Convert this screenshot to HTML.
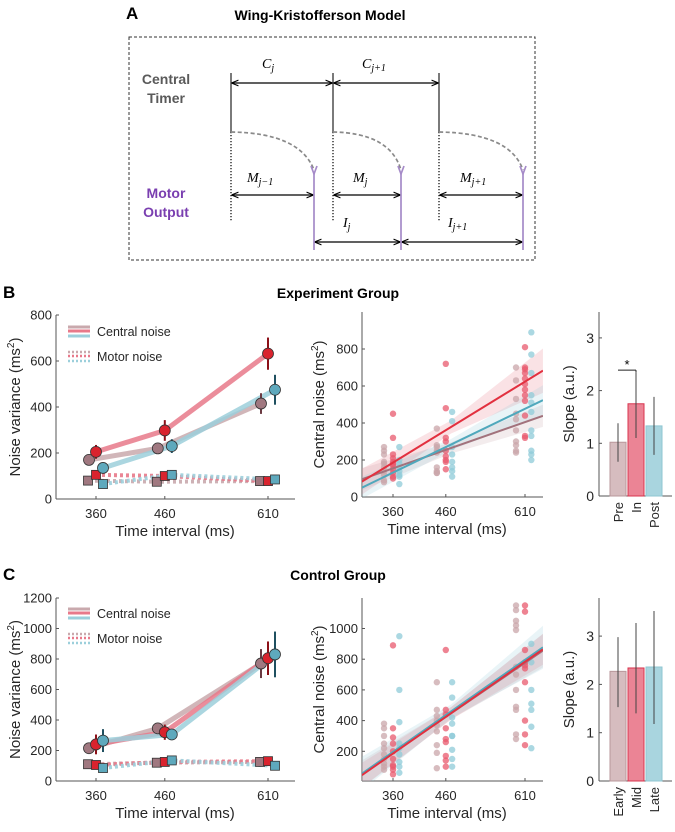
<!DOCTYPE html>
<html><head><meta charset="utf-8">
<style>
body{margin:0;background:#fff;}
svg{display:block;font-family:"Liberation Sans",Arial,sans-serif;}
</style></head>
<body>
<svg id="fig" width="675" height="832" viewBox="0 0 675 832" xmlns="http://www.w3.org/2000/svg">
<defs>
<marker id="ah" viewBox="0 0 10 10" refX="9" refY="5" markerWidth="6" markerHeight="6" orient="auto-start-reverse"><path d="M0,1 L10,5 L0,9" fill="none" stroke="#000" stroke-width="1.5"/></marker>
</defs>
<!-- Panel A -->
<g>
<text x="126" y="19" font-size="17" font-weight="bold">A</text>
<text x="320" y="20" font-size="14" font-weight="bold" text-anchor="middle">Wing-Kristofferson Model</text>
<rect x="129" y="37" width="406" height="223" fill="none" stroke="#333" stroke-dasharray="3,2"/>
<text x="166" y="84" font-size="14" font-weight="bold" fill="#5a5a5a" text-anchor="middle"><tspan x="166">Central</tspan><tspan x="166" dy="19">Timer</tspan></text>
<text x="166" y="198" font-size="14" font-weight="bold" fill="#7a3fb0" text-anchor="middle"><tspan x="166">Motor</tspan><tspan x="166" dy="19">Output</tspan></text>
<g stroke="#333" stroke-width="1.3">
<line x1="231" y1="73" x2="231" y2="132"/><line x1="333" y1="73" x2="333" y2="132"/><line x1="439" y1="73" x2="439" y2="132"/>
</g>
<g stroke="#000" stroke-width="1.2" stroke-dasharray="1.2,1.8">
<line x1="231" y1="132" x2="231" y2="222"/><line x1="333" y1="132" x2="333" y2="222"/><line x1="439" y1="132" x2="439" y2="222"/>
</g>
<g stroke="#000" stroke-width="1.2" marker-start="url(#ah)" marker-end="url(#ah)">
<line x1="232" y1="83" x2="332" y2="83"/><line x1="334" y1="83" x2="438" y2="83"/>
<line x1="232" y1="195" x2="313" y2="195"/><line x1="334" y1="195" x2="400" y2="195"/><line x1="440" y1="195" x2="522" y2="195"/>
<line x1="315" y1="242" x2="400" y2="242"/><line x1="402" y1="242" x2="522" y2="242"/>
</g>
<g fill="none" stroke-width="1.7" stroke-dasharray="4,2.5" stroke="#8a8a8a">
<path d="M231,132 Q300,133 314,170"/>
<path d="M333,132 Q390,133 401,170"/>
<path d="M439,132 Q510,133 523,170"/>
</g>
<g stroke="#a58ac8" stroke-width="1.7" fill="none">
<path d="M311,166 L314,174 L317,166"/><path d="M398,166 L401,174 L404,166"/><path d="M520,166 L523,174 L526,166"/>
<line x1="314" y1="173" x2="314" y2="250"/><line x1="401" y1="173" x2="401" y2="250"/><line x1="523" y1="173" x2="523" y2="250"/>
</g>
<g font-family="Liberation Serif,serif" font-style="italic" font-size="14">
<text x="262" y="68">C<tspan font-size="10" dy="3">j</tspan></text>
<text x="362" y="68">C<tspan font-size="10" dy="3">j+1</tspan></text>
<text x="247" y="182">M<tspan font-size="10" dy="3">j−1</tspan></text>
<text x="353" y="182">M<tspan font-size="10" dy="3">j</tspan></text>
<text x="460" y="182">M<tspan font-size="10" dy="3">j+1</tspan></text>
<text x="343" y="227">I<tspan font-size="10" dy="3">j</tspan></text>
<text x="448" y="227">I<tspan font-size="10" dy="3">j+1</tspan></text>
</g>
</g>
<text x="3" y="298" font-size="17" font-weight="bold">B</text>
<text x="338" y="298" font-size="14" font-weight="bold" text-anchor="middle">Experiment Group</text>
<text x="3" y="580" font-size="17" font-weight="bold">C</text>
<text x="338" y="580" font-size="14" font-weight="bold" text-anchor="middle">Control Group</text>
</svg>
<script>
// ---------- DATA ----------
const intervals = [360, 460, 610];
// Panel B left (experiment)
const bCentralPre = [170, 220, 415], bCentralIn = [205, 298, 632], bCentralPost = [135, 230, 475];
const bCentralPreErr = [12, 15, 45], bCentralInErr = [30, 45, 70], bCentralPostErr = [15, 30, 65];
const bMotorPre = [80, 75, 78], bMotorIn = [105, 100, 78], bMotorPost = [65, 105, 85];
const bMotorErr = [15, 15, 15];
// Panel C left (control)
const cCentralPre = [215, 345, 770], cCentralIn = [240, 320, 805], cCentralPost = [265, 305, 830];
const cCentralPreErr = [12, 30, 95], cCentralInErr = [65, 50, 110], cCentralPostErr = [75, 30, 150];
const cMotorPre = [110, 120, 125], cMotorIn = [105, 125, 130], cMotorPost = [85, 135, 100];
const cMotorErr = [15, 15, 30];
const bLeftTicks = [0, 200, 400, 600, 800];
const cLeftTicks = [0, 200, 400, 600, 800, 1000, 1200];
// Panel B middle scatter
const bDotsPre = [[270,250,230,190,180,160,140,120,90,80],[370,280,270,250,240,160,140,130,130],[700,630,530,450,420,360,300,280,250,240]];
const bDotsIn = [[450,320,230,210,190,180,170,150,130,110,100],[720,480,320,300,250,220,200,190,150],[810,700,690,670,640,610,580,550,520,440,330,320]];
const bDotsPost = [[270,200,180,160,140,120,110,70],[460,410,270,230,190,160,140,110],[890,770,670,550,510,460,360,330,250,230,200]];
const bFitSlope = [1.0, 1.75, 1.38], bFitAt300 = [95, 81, 49];
const bCiLeft = [60, 70, 60], bCiMid = [30, 35, 30], bCiRight = [60, 120, 80];
const bMidTicks = [0, 200, 400, 600, 800];
// Panel C middle scatter
const cDotsPre = [[380,350,300,250,220,180,150,120,100,80],[650,470,430,400,370,330,240,190,90],[1150,1120,1050,1020,990,750,700,600,490,470,310,280]];
const cDotsIn = [[890,350,290,250,200,150,110,100,80,50],[860,470,440,350,280,260,170,140,100],[1150,1110,860,780,760,740,650,400,310,240]];
const cDotsPost = [[950,600,390,250,220,180,130,100,60],[650,550,420,380,300,300,210,150,100],[900,780,600,510,470,360,220]];
const cFitSlope = [2.35, 2.39, 2.4], cFitAt300 = [48, 42, 52];
const cCiLeft = [90, 80, 110], cCiMid = [40, 40, 45], cCiRight = [110, 100, 140];
const cMidTicks = [200, 400, 600, 800, 1000];
// Slopes
const bSlopeLabels = ["Pre", "In", "Post"], bSlopes = [1.02, 1.75, 1.33], bSlopeLo = [0.65, 1.1, 0.78], bSlopeHi = [1.38, 2.35, 1.88];
const cSlopeLabels = ["Early", "Mid", "Late"], cSlopes = [2.27, 2.34, 2.36], cSlopeLo = [1.53, 1.4, 1.18], cSlopeHi = [2.98, 3.27, 3.52];
const slopeTicks = [0, 1, 2, 3];

// ---------- DRAW ----------
const svg = document.getElementById('fig');
const NS = 'http://www.w3.org/2000/svg';
function el(tag, attrs, parent) {
  const e = document.createElementNS(NS, tag);
  for (const k in attrs) e.setAttribute(k, attrs[k]);
  (parent || svg).appendChild(e);
  return e;
}
function txt(s, attrs, parent) { const t = el('text', attrs, parent); t.textContent = s; return t; }
const COL = {
  preLine: '#c9a9ad', inLine: '#e8798a', postLine: '#9ccfdb',
  preMk: '#a07880', inMk: '#d9232e', postMk: '#5ea9bd',
  preErr: '#6b3a42', inErr: '#8c1018', postErr: '#1f5060',
  preDot: '#c9a5aa', inDot: '#e8596e', postDot: '#8fcbd8',
  preFit: '#a2727c', inFit: '#e2303f', postFit: '#4fa8bc',
  preBar: '#d6bcbf', inBar: '#eb8495', postBar: '#a9d5df',
  preBarE: '#b8979b', inBarE: '#d8344e', postBarE: '#8fc6d2'
};

function linePanel(name, top, bottom, ymax, ticks, cen, cenErr, mot, motErr, legY) {
  const g = el('g', {});
  
  
  const x0 = 56, x1 = 295;
  const xs = ms => 96 + (ms - 360) * 0.688;
  const ys = v => bottom - v / ymax * (bottom - top);
  el('line', {x1: x0, y1: bottom, x2: x1, y2: bottom, stroke: '#555', 'stroke-width': 1}, g);
  el('line', {x1: x0, y1: top, x2: x0, y2: bottom, stroke: '#555', 'stroke-width': 1}, g);
  ticks.forEach(t => {
    el('line', {x1: x0, y1: ys(t), x2: x0 + 3, y2: ys(t), stroke: '#555'}, g);
    const lb = txt(String(t), {x: x0 - 4, y: ys(t) + 4.5, 'font-size': 13, 'text-anchor': 'end', fill: '#262626'}, g);
    
    
  });
  intervals.forEach(ms => {
    el('line', {x1: xs(ms), y1: bottom, x2: xs(ms), y2: bottom - 3, stroke: '#555'}, g);
    const lb = txt(String(ms), {x: xs(ms), y: bottom + 19, 'font-size': 13, 'text-anchor': 'middle', fill: '#262626'}, g);
    
    
  });
  const xl = txt('Time interval (ms)', {x: 175, y: bottom + 37, 'font-size': 15, 'text-anchor': 'middle', fill: '#262626'}, g);
  
  
  const yl = el('text', {transform: `translate(20,${(top + bottom) / 2}) rotate(-90)`, 'font-size': 15, 'text-anchor': 'middle', fill: '#262626'}, g);
  yl.innerHTML = 'Noise variance (ms<tspan font-size="10" dy="-6">2</tspan><tspan dy="6">)</tspan>';
  
  
  const offs = [-7, 0, 7];
  const lc = [COL.preLine, COL.inLine, COL.postLine];
  const mc = [COL.preMk, COL.inMk, COL.postMk];
  const ec = [COL.preErr, COL.inErr, COL.postErr];
  const snames = ['pre', 'in', 'post'];
  mot.forEach((arr, s) => {
    const p = el('polyline', {points: arr.map((v, i) => `${xs(intervals[i]) + offs[s]},${ys(v)}`).join(' '), fill: 'none', stroke: lc[s], 'stroke-width': 4, 'stroke-dasharray': '3,3', opacity: 0.9}, g);
    
    
  });
  cen.forEach((arr, s) => {
    const p = el('polyline', {points: arr.map((v, i) => `${xs(intervals[i]) + offs[s]},${ys(v)}`).join(' '), fill: 'none', stroke: lc[s], 'stroke-width': 5, opacity: 0.85}, g);
    
    
  });
  mot.forEach((arr, s) => arr.forEach((v, i) => {
    const x = xs(intervals[i]) + offs[s] + (s === 0 ? -1 : 0);
    el('line', {x1: x, y1: ys(v + motErr[i]), x2: x, y2: ys(v - motErr[i]), stroke: ec[s], 'stroke-width': 2}, g);
    const r = el('rect', {x: x - 4.5, y: ys(v) - 4.5, width: 9, height: 9, fill: mc[s], stroke: '#333', 'stroke-width': 0.8}, g);
    
    
  }));
  cen.forEach((arr, s) => arr.forEach((v, i) => {
    const x = xs(intervals[i]) + offs[s];
    el('line', {x1: x, y1: ys(v + cenErr[s][i]), x2: x, y2: ys(v - cenErr[s][i]), stroke: ec[s], 'stroke-width': 2}, g);
    const c = el('circle', {cx: x, cy: ys(v), r: 5.5, fill: mc[s], stroke: '#333', 'stroke-width': 0.8}, g);
    
    
  }));
  const lg = el('g', {}, g);
  
  
  [[COL.preLine, -4], [COL.inLine, 0], [COL.postLine, 5]].forEach(([c, dy]) =>
    el('line', {x1: 68, y1: legY + dy, x2: 90, y2: legY + dy, stroke: c, 'stroke-width': 3}, lg));
  txt('Central noise', {x: 97, y: legY + 5, 'font-size': 12.5, fill: '#262626'}, lg);
  [[COL.preLine, -4], [COL.inLine, 0], [COL.postLine, 5]].forEach(([c, dy]) =>
    el('line', {x1: 68, y1: legY + 25 + dy, x2: 90, y2: legY + 25 + dy, stroke: c, 'stroke-width': 2.5, 'stroke-dasharray': '2,2'}, lg));
  txt('Motor noise', {x: 97, y: legY + 30, 'font-size': 12.5, fill: '#262626'}, lg);
}

function scatterPanel(name, top, bottom, ymaxV, y0px, pxPer, ticks, dots, slope, at300, ciL, ciM, ciR) {
  const g = el('g', {});
  
  
  const x0 = 362, x1 = 543, msL = 301, msR = 644;
  const xs = ms => 393 + (ms - 360) * 0.528;
  const ys = v => y0px - v * pxPer;
  el('line', {x1: x0, y1: bottom, x2: x1, y2: bottom, stroke: '#555'}, g);
  el('line', {x1: x0, y1: top, x2: x0, y2: bottom, stroke: '#555'}, g);
  ticks.forEach(t => {
    el('line', {x1: x0, y1: ys(t), x2: x0 + 3, y2: ys(t), stroke: '#555'}, g);
    const lb = txt(String(t), {x: x0 - 4, y: ys(t) + 4.5, 'font-size': 13, 'text-anchor': 'end', fill: '#262626'}, g);
    
    
  });
  intervals.forEach(ms => {
    el('line', {x1: xs(ms), y1: bottom, x2: xs(ms), y2: bottom - 3, stroke: '#555'}, g);
    const lb = txt(String(ms), {x: xs(ms), y: bottom + 19, 'font-size': 13, 'text-anchor': 'middle', fill: '#262626'}, g);
    
    
  });
  const xl = txt('Time interval (ms)', {x: 447, y: bottom + 37, 'font-size': 15, 'text-anchor': 'middle', fill: '#262626'}, g);
  
  
  const yl = el('text', {transform: `translate(${x0 - 38},${(top + bottom) / 2}) rotate(-90)`, 'font-size': 15, 'text-anchor': 'middle', fill: '#262626'}, g);
  yl.innerHTML = 'Central noise (ms<tspan font-size="10" dy="-6">2</tspan><tspan dy="6">)</tspan>';
  
  
  const clip = el('clipPath', {id: name + '-clip'}, g);
  el('rect', {x: x0, y: top, width: x1 - x0, height: bottom - top}, clip);
  const pg = el('g', {'clip-path': `url(#${name}-clip)`}, g);
  const fc = [COL.preFit, COL.inFit, COL.postFit];
  const bandc = [COL.preLine, COL.inLine, COL.postLine];
  const snames = ['pre', 'in', 'post'];
  const dc = [COL.preDot, COL.inDot, COL.postDot];
  const doff = [-17, 0, 12];
  const f = (s, ms) => at300[s] + slope[s] * (ms - 300);
  const msM = 470;
  for (let s = 0; s < 3; s++) {
    const pts = [[msL, ciL[s]], [msM, ciM[s]], [msR, ciR[s]]];
    const up = pts.map(([m, w]) => `${xs(m)},${ys(f(s, m) + w)}`);
    const dn = pts.slice().reverse().map(([m, w]) => `${xs(m)},${ys(f(s, m) - w)}`);
    const b = el('polygon', {points: up.concat(dn).join(' '), fill: bandc[s], opacity: 0.22}, pg);
    
    
  }
  dots.forEach((grp, s) => grp.forEach((vals, i) => vals.forEach(v => {
    const d = el('circle', {cx: xs(intervals[i] + doff[s]), cy: ys(v), r: 3.2, fill: dc[s], opacity: 0.75}, pg);
    
    
  })));
  [0, 2, 1].forEach(s => {
    const l = el('line', {x1: xs(msL), y1: ys(f(s, msL)), x2: xs(msR), y2: ys(f(s, msR)), stroke: fc[s], 'stroke-width': 2}, pg);
    
    
  });
}

function barPanel(name, top, bottom, unitPx, labels, vals, lo, hi, star) {
  const g = el('g', {});
  
  
  const x0 = 599, x1 = 672;
  const ys = v => bottom - v * unitPx;
  el('line', {x1: x0, y1: bottom, x2: x1, y2: bottom, stroke: '#555'}, g);
  el('line', {x1: x0, y1: top, x2: x0, y2: bottom, stroke: '#555'}, g);
  slopeTicks.forEach(t => {
    el('line', {x1: x0, y1: ys(t), x2: x0 + 3, y2: ys(t), stroke: '#555'}, g);
    const lb = txt(String(t), {x: x0 - 5, y: ys(t) + 5, 'font-size': 14, 'text-anchor': 'end', fill: '#262626'}, g);
    
    
  });
  const yl = txt('Slope (a.u.)', {transform: `translate(${x0 - 25},${(top + bottom) / 2}) rotate(-90)`, 'font-size': 15, 'text-anchor': 'middle', fill: '#262626'}, g);
  
  
  const fills = [COL.preBar, COL.inBar, COL.postBar], edges = [COL.preBarE, COL.inBarE, COL.postBarE];
  vals.forEach((v, i) => {
    const cx = 618 + i * 18;
    const r = el('rect', {x: cx - 8, y: ys(v), width: 16, height: v * unitPx, fill: fills[i], stroke: edges[i], 'stroke-width': 1}, g);
    
    
    el('line', {x1: cx, y1: ys(hi[i]), x2: cx, y2: ys(lo[i]), stroke: '#444', 'stroke-width': 1}, g);
    const lb = txt(labels[i], {transform: `translate(${cx + 5},${bottom + 6}) rotate(-90)`, 'font-size': 13, 'text-anchor': 'end', fill: '#262626'}, g);
    
    
  });
  if (star) {
    const yb = ys(hi[1]) - 2;
    el('line', {x1: 618, y1: yb, x2: 636, y2: yb, stroke: '#222'}, g);
    el('line', {x1: 636, y1: yb, x2: 636, y2: ys(hi[1]), stroke: '#222'}, g);
    const st = txt('*', {x: 627, y: yb - 1, 'font-size': 13, 'text-anchor': 'middle'}, g);
    
    
  }
}

linePanel('experiment-noise-chart', 315, 499, 800, bLeftTicks,
  [bCentralPre, bCentralIn, bCentralPost], [bCentralPreErr, bCentralInErr, bCentralPostErr],
  [bMotorPre, bMotorIn, bMotorPost], bMotorErr, 331);
linePanel('control-noise-chart', 598, 781, 1200, cLeftTicks,
  [cCentralPre, cCentralIn, cCentralPost], [cCentralPreErr, cCentralInErr, cCentralPostErr],
  [cMotorPre, cMotorIn, cMotorPost], cMotorErr, 613);
scatterPanel('experiment-scatter-chart', 312, 497, 1000, 497, 37 / 200, bMidTicks,
  [bDotsPre, bDotsIn, bDotsPost], bFitSlope, bFitAt300, bCiLeft, bCiMid, bCiRight);
scatterPanel('control-scatter-chart', 598, 781, 1200, 782, 30.7 / 200, cMidTicks,
  [cDotsPre, cDotsIn, cDotsPost], cFitSlope, cFitAt300, cCiLeft, cCiMid, cCiRight);
barPanel('experiment-slope-chart', 312, 496, 52.7, bSlopeLabels, bSlopes, bSlopeLo, bSlopeHi, true);
barPanel('control-slope-chart', 598, 781, 48.3, cSlopeLabels, cSlopes, cSlopeLo, cSlopeHi, false);
</script>
</body></html>
